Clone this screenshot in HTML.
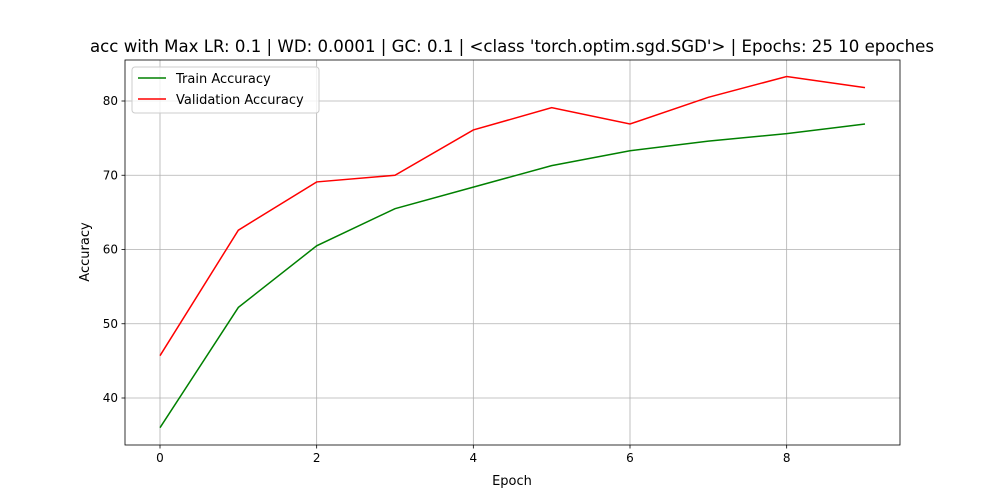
<!DOCTYPE html>
<html><head><meta charset="utf-8"><style>body{margin:0;background:#fff}svg{display:block}text{font-family:"DejaVu Sans","Liberation Sans",sans-serif}</style></head>
<body>
<svg id="chart" width="1000" height="500" xmlns="http://www.w3.org/2000/svg"></svg>
<script>
const epochs=[0,1,2,3,4,5,6,7,8,9];
const trainAcc=[36.0,52.2,60.5,65.5,68.4,71.3,73.3,74.6,75.6,76.9];
const valAcc=[45.7,62.6,69.1,70.0,76.1,79.1,76.9,80.5,83.3,81.8];
const xTicks=[0,2,4,6,8];
const yTicks=[40,50,60,70,80];
const L=125,R=900,T=60,B=445;
const xs=v=>160+(v-0)*(865-160)/9;
const ys=v=>398-(v-40)*7.425;
const svg=document.getElementById('chart');
const NS='http://www.w3.org/2000/svg';
function mk(tag,attrs,txt){const e=document.createElementNS(NS,tag);for(const k in attrs)e.setAttribute(k,attrs[k]);if(txt!==undefined)e.textContent=txt;svg.appendChild(e);return e;}
xTicks.forEach(t=>{const x=xs(t);
 const g=mk('line',{x1:x,x2:x,y1:T,y2:B,stroke:'#b0b0b0','stroke-width':0.8});
 
 
 mk('line',{x1:x,x2:x,y1:B,y2:B+3.5,stroke:'#000','stroke-width':0.8});
 const l=mk('text',{x:x,y:B+17,'font-size':12,'text-anchor':'middle'},t);
 
 });
yTicks.forEach(t=>{const y=ys(t);
 const g=mk('line',{x1:L,x2:R,y1:y,y2:y,stroke:'#b0b0b0','stroke-width':0.8});
 
 
 mk('line',{x1:L-3.5,x2:L,y1:y,y2:y,stroke:'#000','stroke-width':0.8});
 const l=mk('text',{x:L-7,y:y+4,'font-size':12,'text-anchor':'end'},t);
 
 });
function line(data,color,name){const p=mk('polyline',{points:data.map((v,i)=>xs(epochs[i])+','+ys(v)).join(' '),fill:'none',stroke:color,'stroke-width':1.5});
 
 }
line(trainAcc,'green','train-accuracy-line');
line(valAcc,'red','validation-accuracy-line');
const f=mk('rect',{x:L,y:T,width:R-L,height:B-T,fill:'none',stroke:'#000','stroke-width':0.8});


</script>
<svg style="position:absolute;left:0;top:0" width="1000" height="500" xmlns="http://www.w3.org/2000/svg">
<text x="512" y="52" font-size="16.6" text-anchor="middle">acc with Max LR: 0.1 | WD: 0.0001 | GC: 0.1 | &lt;class 'torch.optim.sgd.SGD'&gt; | Epochs: 25 10 epoches</text>
<text x="512" y="485" font-size="13" text-anchor="middle">Epoch</text>
<text x="89" y="252" font-size="13" text-anchor="middle" transform="rotate(-90 89 252)">Accuracy</text>
<g>
<rect x="132" y="67" width="187" height="46" rx="3" fill="#fff" fill-opacity="0.8" stroke="#ccc"/>
<line x1="138" x2="166" y1="78" y2="78" stroke="green" stroke-width="1.5"/>
<text x="176" y="83" font-size="13">Train Accuracy</text>
<line x1="138" x2="166" y1="99" y2="99" stroke="red" stroke-width="1.5"/>
<text x="176" y="104" font-size="13">Validation Accuracy</text>
</g>
</svg>
</body></html>
